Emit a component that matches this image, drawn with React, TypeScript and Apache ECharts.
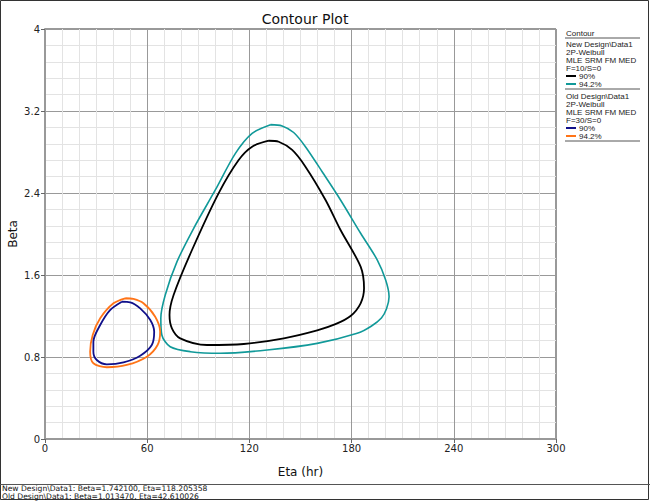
import React, { useEffect, useRef } from "react";
import * as echarts from "echarts";

const xTicks = [0, 60, 120, 180, 240, 300];
const yTicks = [0, 0.8, 1.6, 2.4, 3.2, 4];

const newDesign90: [number, number][] = [
  [131.4, 2.91], [121.6, 2.852], [113.7, 2.722], [101.9, 2.397], [86.3, 1.844],
  [75.5, 1.405], [73.1, 1.21], [74.5, 1.08], [79.4, 0.982], [95.1, 0.917], [116.7, 0.927],
  [140.2, 0.982], [159.8, 1.06], [170.5, 1.12], [179.4, 1.2], [185.3, 1.324], [187.3, 1.47],
  [185.3, 1.681], [173.5, 2.039], [164.7, 2.332], [152.9, 2.657], [145.1, 2.82],
  [137.2, 2.9],
];
const newDesign942: [number, number][] = [
  [132.4, 3.067], [121.6, 2.982], [111.8, 2.787], [100, 2.43], [87.3, 2.056], [77.5, 1.73],
  [70.6, 1.405], [68.0, 1.178], [68.6, 1.015], [73.5, 0.9], [85.3, 0.852], [102.9, 0.836],
  [130.4, 0.868], [159.8, 0.933], [183.3, 1.031], [191.5, 1.1], [197.5, 1.18], [200.5, 1.27],
  [202, 1.389], [200, 1.551], [195.1, 1.746], [185.3, 2.007], [173.5, 2.332], [163, 2.6],
  [152.9, 2.852], [146, 2.99], [139.2, 3.054],
];
const oldDesign90: [number, number][] = [
  [45.1, 1.34], [38.2, 1.258], [32.4, 1.112], [28.4, 0.949], [28.4, 0.852], [30.4, 0.771],
  [36.3, 0.729], [46.1, 0.748], [55.9, 0.813], [62.7, 0.917], [64.1, 1.047], [61.8, 1.161],
  [55.9, 1.275], [50, 1.334],
];
const oldDesign942: [number, number][] = [
  [47.1, 1.373], [40.2, 1.324], [32.4, 1.178], [28.0, 1.015], [26.5, 0.852], [28.4, 0.739],
  [36.3, 0.7], [48.0, 0.722], [59.8, 0.803], [66.1, 0.917], [67.6, 1.047], [64.7, 1.193],
  [57.8, 1.324], [51.9, 1.366],
];

const legendTitle = "Contour";
const legendGroups = [
  {
    lines: ["New Design\\Data1", "2P-Weibull", "MLE SRM FM MED", "F=10/S=0"],
    items: [
      { label: "90%", color: "#000000" },
      { label: "94.2%", color: "#119999" },
    ],
  },
  {
    lines: ["Old Design\\Data1", "2P-Weibull", "MLE SRM FM MED", "F=30/S=0"],
    items: [
      { label: "90%", color: "#10108a" },
      { label: "94.2%", color: "#ff7418" },
    ],
  },
];
const footerLines = [
  "New Design\\Data1: Beta=1.742100, Eta=118.205358",
  "Old Design\\Data1: Beta=1.013470, Eta=42.610026",
];

const close = (pts: [number, number][]) => [...pts, pts[0]];
const FONT = "DejaVu Sans";
const LFONT = "Liberation Sans";

export default function App() {
  const ref = useRef<HTMLDivElement>(null);
  useEffect(() => {
    document.body.style.margin = "0";
    const chart = echarts.init(ref.current!, undefined, { renderer: "svg" });

    const graphics: any[] = [];
    graphics.push({
      type: "rect",
      shape: { x: 0.5, y: 0.5, width: 648, height: 499 },
      style: { fill: "none", stroke: "#333", lineWidth: 1 },
      silent: true,
    });
    graphics.push({
      type: "line",
      shape: { x1: 0, y1: 484.5, x2: 650, y2: 484.5 },
      style: { stroke: "#555", lineWidth: 1 },
    });
    footerLines.forEach((t, i) => {
      graphics.push({
        type: "text",
        x: 2,
        y: 488.5 + i * 8,
        style: {
          text: t,
          font: `7.6px "${FONT}"`,
          lineHeight: 8,
          fill: "#111",
          textVerticalAlign: "middle",
        },
      });
    });
    const lx = 566;
    const txt = (t: string, x: number, y: number) => ({
      type: "text",
      x,
      y,
      style: {
        text: t,
        font: `8px "${LFONT}"`,
        lineHeight: 8,
        fill: "#222",
        textVerticalAlign: "middle",
      },
    });
    let y = 33;
    graphics.push(txt(legendTitle, lx, y));
    y += 5;
    graphics.push({
      type: "line",
      shape: { x1: lx - 1, y1: y, x2: 640, y2: y },
      style: { stroke: "#555", lineWidth: 1 },
    });
    y += 6;
    legendGroups.forEach((g) => {
      g.lines.forEach((t) => {
        graphics.push(txt(t, lx, y));
        y += 8;
      });
      g.items.forEach((it) => {
        graphics.push({
          type: "line",
          shape: { x1: lx, y1: y, x2: lx + 10, y2: y },
          style: { stroke: it.color, lineWidth: 2 },
        });
        graphics.push(txt(it.label, lx + 13, y));
        y += 8;
      });
      y -= 3;
      graphics.push({
        type: "line",
        shape: { x1: lx - 1, y1: y, x2: 640, y2: y },
        style: { stroke: "#555", lineWidth: 1 },
      });
      y += 7;
    });

    const mkSeries = (name: string, data: [number, number][], color: string, width: number) => ({
      type: "line",
      name,
      data: close(data),
      showSymbol: false,
      smooth: 0.3,
      lineStyle: { color, width },
      silent: true,
    });

    chart.setOption({
      animation: false,
      textStyle: { fontFamily: FONT },
      title: {
        text: "Contour Plot",
        left: 300,
        textAlign: "center",
        top: 7,
        textStyle: { fontFamily: FONT, fontSize: 14, fontWeight: "normal", color: "#111" },
      },
      grid: {
        left: 45,
        right: 94,
        top: 29,
        bottom: 62,
        containLabel: false,
        outerBoundsMode: "none",
        show: true,
        borderColor: "#333",
        borderWidth: 1,
        backgroundColor: "#fff",
      },
      xAxis: {
        type: "value",
        min: xTicks[0],
        max: xTicks[xTicks.length - 1],
        interval: 60,
        name: "Eta (hr)",
        nameLocation: "middle",
        nameGap: 27,
        nameMoveOverlap: false,
        nameTextStyle: { fontFamily: FONT, fontSize: 12, color: "#111" },
        axisLine: { show: true, onZero: false, lineStyle: { color: "#999", width: 2 } },
        axisTick: { show: true, length: 4, lineStyle: { color: "#666" } },
        axisLabel: { fontFamily: FONT, fontSize: 10, color: "#222", margin: 4 },
        splitLine: { show: true, lineStyle: { color: "#999", width: 1 } },
        minorTick: { show: false, splitNumber: 6 },
        minorSplitLine: { show: true, lineStyle: { color: "#e3e3e3", width: 1 } },
      },
      yAxis: {
        type: "value",
        min: yTicks[0],
        max: yTicks[yTicks.length - 1],
        interval: 0.8,
        name: "Beta",
        nameLocation: "middle",
        nameGap: 26,
        nameMoveOverlap: false,
        nameTextStyle: { fontFamily: FONT, fontSize: 12, color: "#111" },
        axisLine: { show: true, onZero: false, lineStyle: { color: "#999", width: 2 } },
        axisTick: { show: true, length: 4, lineStyle: { color: "#666" } },
        axisLabel: {
          fontFamily: FONT,
          fontSize: 10,
          color: "#222",
          margin: 5,
          formatter: (v: number) => String(Math.round(v * 10) / 10),
        },
        splitLine: { show: true, lineStyle: { color: "#999", width: 1 } },
        minorTick: { show: false, splitNumber: 5 },
        minorSplitLine: { show: true, lineStyle: { color: "#e3e3e3", width: 1 } },
      },
      series: [
        mkSeries("New 94.2%", newDesign942, "#119999", 1.6),
        mkSeries("New 90%", newDesign90, "#000000", 1.8),
        mkSeries("Old 94.2%", oldDesign942, "#ff7418", 1.8),
        mkSeries("Old 90%", oldDesign90, "#10108a", 1.8),
      ],
      graphic: graphics,
    });
    return () => chart.dispose();
  }, []);
  return <div ref={ref} style={{ width: 650, height: 501 }} />;
}
